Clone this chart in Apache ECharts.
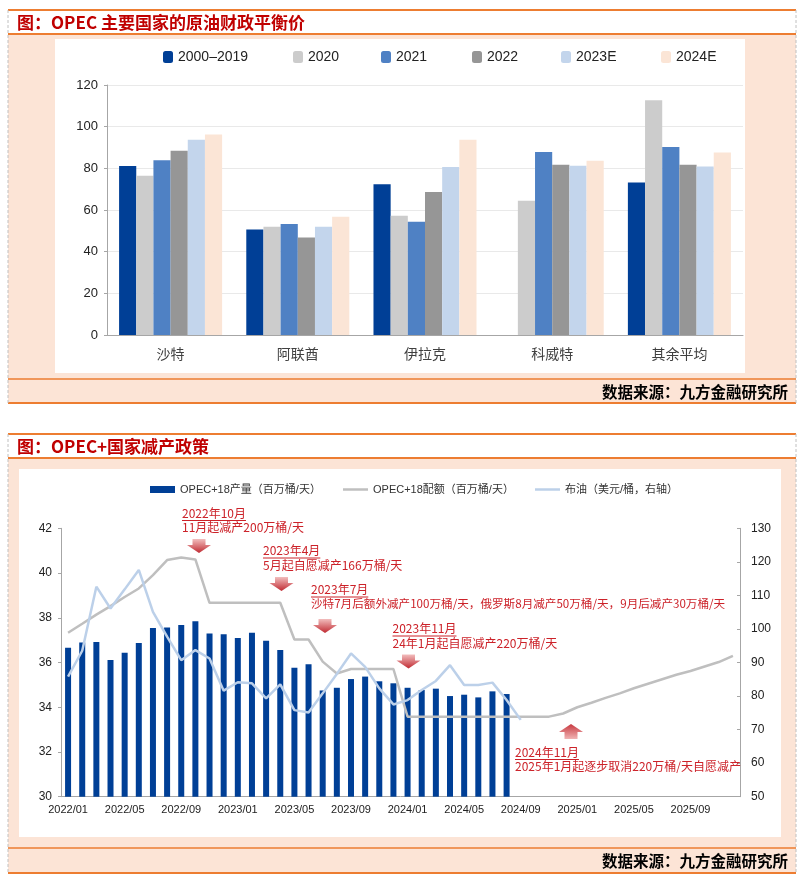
<!DOCTYPE html>
<html><head><meta charset="utf-8">
<script src="https://cdn.jsdelivr.net/npm/echarts@6/dist/echarts.min.js"></script>
<style>html,body{margin:0;padding:0;background:#fff;}#main{width:800px;height:884px;}</style>
</head><body><div id="main"></div>
<script>
// ===== Chart 1 data: OPEC 主要国家的原油财政平衡价 =====
const countries = ['沙特', '阿联酋', '伊拉克', '科威特', '其余平均'];
const seriesNames1 = ['2000–2019', '2020', '2021', '2022', '2023E', '2024E'];
const v2000_2019 = [81.1, 50.7, 72.4, null, 73.2];
const v2020 = [76.4, 52.0, 57.3, 64.5, 112.7];
const v2021 = [83.9, 53.3, 54.4, 87.9, 90.2];
const v2022 = [88.4, 46.8, 68.6, 81.7, 81.7];
const v2023E = [93.7, 52.0, 80.6, 81.2, 80.9];
const v2024E = [96.2, 56.8, 93.7, 83.6, 87.6];
const yTicks1 = {min: 0, max: 120, interval: 20};

// ===== Chart 2 data: OPEC+国家减产政策 =====
const months = ['2022/01','2022/02','2022/03','2022/04','2022/05','2022/06','2022/07','2022/08','2022/09','2022/10','2022/11','2022/12',
  '2023/01','2023/02','2023/03','2023/04','2023/05','2023/06','2023/07','2023/08','2023/09','2023/10','2023/11','2023/12',
  '2024/01','2024/02','2024/03','2024/04','2024/05','2024/06','2024/07','2024/08','2024/09','2024/10','2024/11','2024/12',
  '2025/01','2025/02','2025/03','2025/04','2025/05','2025/06','2025/07','2025/08','2025/09','2025/10','2025/11','2025/12'];
const seriesNames2 = ['OPEC+18产量（百万桶/天）', 'OPEC+18配额（百万桶/天）', '布油（美元/桶，右轴）'];
const production = [36.66, 36.89, 36.92, 36.11, 36.44, 36.87, 37.54, 37.56, 37.68, 37.84, 37.30, 37.26,
  37.09, 37.33, 36.97, 36.56, 35.77, 35.92, 34.75, 34.87, 35.26, 35.37, 35.16, 35.07,
  34.87, 34.77, 34.83, 34.50, 34.56, 34.44, 34.71, 34.59];
const quota = [37.33, 37.73, 38.14, 38.52, 38.93, 39.31, 39.91, 40.58, 40.69, 40.61, 38.67, 38.67,
  38.67, 38.67, 38.67, 38.67, 37.03, 37.03, 36.04, 35.51, 35.71, 35.71, 35.71, 35.71,
  33.58, 33.58, 33.58, 33.58, 33.58, 33.58, 33.58, 33.58, 33.58, 33.58, 33.58, 33.72,
  34.00, 34.20, 34.42, 34.62, 34.85, 35.05, 35.25, 35.45, 35.62, 35.82, 36.02, 36.30];
const brent = [85.8, 93.5, 112.6, 106.1, 111.8, 117.6, 105.1, 97.7, 90.7, 93.7, 91.2, 81.6,
  84.1, 83.8, 79.3, 83.5, 75.8, 75.1, 80.8, 86.6, 92.7, 88.7, 82.3, 77.5,
  78.8, 81.8, 84.5, 89.2, 83.3, 83.3, 84.0, 78.8, 72.9];
const yTicksLeft2 = {min: 30, max: 42, interval: 2};
const yTicksRight2 = {min: 50, max: 130, interval: 10};

// annotations (date line, description line)
const notes = [
  {date: '2022年10月', text: '11月起减产200万桶/天'},
  {date: '2023年4月', text: '5月起自愿减产166万桶/天'},
  {date: '2023年7月', text: '沙特7月后额外减产100万桶/天，俄罗斯8月减产50万桶/天，9月后减产30万桶/天'},
  {date: '2023年11月', text: '24年1月起自愿减产220万桶/天'},
  {date: '2024年11月', text: '2025年1月起逐步取消220万桶/天自愿减产'}
];

// ===== styling / layout =====
const SANS = "'Liberation Sans', 'Noto Sans CJK SC', sans-serif";
const CJK = "'Noto Sans CJK SC', sans-serif";
const ORANGE = '#ED7D31', PEACH = '#FCE4D6', RED = '#CC2229', TITLE_RED = '#C00000';
const barColors1 = ['#003F96', '#CCCCCC', '#4F81C4', '#969696', '#C3D5EC', '#FBE5D6'];
const data1 = [v2000_2019, v2020, v2021, v2022, v2023E, v2024E];
const legend1X = [158, 288, 376, 467, 556, 656];
const legend2X = [145, 338, 530];

const chart = echarts.init(document.getElementById('main'));

const g = [];
function hl(y, x1, x2, c, w, z) { g.push({type: 'line', silent: true, z: z || -5, shape: {x1: x1, y1: y, x2: x2, y2: y}, style: {stroke: c, lineWidth: w}}); }
function vdash(x, y1, y2) { g.push({type: 'line', silent: true, z: -4, shape: {x1: x, y1: y1, x2: x, y2: y2}, style: {stroke: '#C0C0C0', lineWidth: 1, lineDash: [3, 2]}}); }
function rect(x, y, w, h, c, z) { g.push({type: 'rect', silent: true, z: z, shape: {x: x, y: y, width: w, height: h}, style: {fill: c}}); }
function txt(t, x, y, o) { g.push({type: 'text', silent: true, z: 50, x: x, y: y, style: Object.assign({text: t, textVerticalAlign: 'middle', verticalAlign: 'middle'}, o)}); }

function panel(top, titleBot, srcTop, bot, title, inner) {
  rect(8, top, 788, titleBot - top, '#FFFFFF', -10);
  rect(8, titleBot, 788, bot - titleBot, PEACH, -10);
  rect(inner[0], inner[1], inner[2], inner[3], '#FFFFFF', -9);
  hl(top, 8, 796, ORANGE, 2);
  hl(titleBot, 8, 796, ORANGE, 2);
  hl(srcTop, 8, 796, ORANGE, 1.5);
  hl(bot, 8, 796, ORANGE, 2);
  vdash(8, top, bot); vdash(796, top, bot);
  txt(title, 17, (top + titleBot) / 2 + 1, {fill: TITLE_RED, font: 'bold 17px ' + CJK, align: 'left'});
  txt('数据来源：九方金融研究所', 788, (srcTop + bot) / 2 + 1, {fill: '#000', font: 'bold 15.5px ' + CJK, align: 'right'});
}
panel(10, 34, 379, 403, '图：OPEC 主要国家的原油财政平衡价', [55, 39, 690, 334]);
panel(434, 458, 848, 873, '图：OPEC+国家减产政策', [19, 469, 762, 368]);

// annotation helpers
const mctx = document.createElement('canvas').getContext('2d');
function measure(t, font) { mctx.font = font; return mctx.measureText(t).width; }
const noteFont = '12px ' + CJK;
const noteLayout = [
  {x: 182, y: 513, ax: 199, ay: 539, dir: 'down'},
  {x: 263, y: 550.5, ax: 281.5, ay: 577, dir: 'down'},
  {x: 311, y: 589.5, ax: 325, ay: 619, dir: 'down'},
  {x: 392.5, y: 628.5, ax: 408.5, ay: 654.5, dir: 'down'},
  {x: 515, y: 752, ax: 571, ay: 724, dir: 'up'}
];
const arrowFill = function (up) {
  return {type: 'linear', x: 0, y: 0, x2: 0, y2: 1, colorStops: up ?
    [{offset: 0, color: '#C8383F'}, {offset: 1, color: '#F0B4B4'}] :
    [{offset: 0, color: '#F2BDBD'}, {offset: 1, color: '#C02A32'}]};
};
notes.forEach(function (n, i) {
  const L = noteLayout[i];
  txt(n.date, L.x, L.y, {fill: RED, font: noteFont, align: 'left'});
  const w = measure(n.date, noteFont);
  hl(L.y + 7.5, L.x, L.x + w, RED, 1, 50);
  txt(n.text, L.x, L.y + 14.5, {fill: RED, font: (i === 2 ? '11.6px ' : '12px ') + CJK, align: 'left'});
  const cx = L.ax, ty = L.ay;
  let pts;
  if (L.dir === 'down') {
    pts = [[cx - 6.5, ty], [cx + 6.5, ty], [cx + 6.5, ty + 6], [cx + 12, ty + 6], [cx, ty + 14], [cx - 12, ty + 6], [cx - 6.5, ty + 6]];
  } else {
    pts = [[cx, ty], [cx + 12, ty + 8], [cx + 6.5, ty + 8], [cx + 6.5, ty + 15], [cx - 6.5, ty + 15], [cx - 6.5, ty + 8], [cx - 12, ty + 8]];
  }
  g.push({type: 'polygon', silent: true, z: 50, shape: {points: pts}, style: {fill: arrowFill(L.dir === 'up')}});
});

const legends = [];
seriesNames1.forEach(function (nm, i) {
  legends.push({data: [nm], left: legend1X[i], top: 45, icon: 'roundRect', itemWidth: 10, itemHeight: 12,
    textStyle: {fontFamily: SANS, fontSize: 14, color: '#222'}, selectedMode: false});
});
seriesNames2.forEach(function (nm, i) {
  legends.push({data: [nm], left: legend2X[i], top: 479, itemWidth: 25, itemHeight: i === 0 ? 7 : 2.5, icon: 'rect',
    itemGap: 2, textStyle: {fontFamily: SANS, fontSize: 11, color: '#333'}, selectedMode: false});
});

const series = [];
seriesNames1.forEach(function (nm, i) {
  series.push({name: nm, type: 'bar', xAxisIndex: 0, yAxisIndex: 0, data: data1[i], barGap: '0%', barCategoryGap: '19%',
    itemStyle: {color: barColors1[i]}});
});
series.push({name: seriesNames2[0], type: 'bar', xAxisIndex: 1, yAxisIndex: 1, data: production, barWidth: 6, itemStyle: {color: '#003F96'}, z: 2});
series.push({name: seriesNames2[1], type: 'line', xAxisIndex: 1, yAxisIndex: 1, data: quota, symbol: 'none', lineStyle: {color: '#BFBFBF', width: 2.5}, itemStyle: {color: '#BFBFBF'}, z: 3});
series.push({name: seriesNames2[2], type: 'line', xAxisIndex: 1, yAxisIndex: 2, data: brent, symbol: 'none', lineStyle: {color: '#BCD0E9', width: 2.5}, itemStyle: {color: '#BCD0E9'}, z: 4});

const axisGray = '#A6A6A6';
chart.setOption({
  animation: false,
  backgroundColor: '#FFFFFF',
  graphic: g,
  legend: legends,
  grid: [
    {left: 107, right: 57, top: 85, bottom: 549},
    {left: 61, right: 60, top: 528.3, bottom: 87.3}
  ],
  xAxis: [
    {type: 'category', gridIndex: 0, data: countries,
      axisLine: {lineStyle: {color: axisGray}}, axisTick: {inside: true, length: 4, lineStyle: {color: axisGray}},
      axisLabel: {fontFamily: CJK, fontSize: 14, color: '#404040', margin: 12}},
    {type: 'category', gridIndex: 1, data: months,
      axisLine: {lineStyle: {color: axisGray}}, axisTick: {inside: true, length: 4, interval: 3, lineStyle: {color: axisGray}},
      axisLabel: {interval: 3, fontFamily: SANS, fontSize: 11, color: '#222', margin: 8}}
  ],
  yAxis: [
    {type: 'value', gridIndex: 0, min: yTicks1.min, max: yTicks1.max, interval: yTicks1.interval,
      axisLine: {show: true, lineStyle: {color: axisGray}}, axisTick: {show: true, length: 3, lineStyle: {color: axisGray}},
      splitLine: {lineStyle: {color: '#E9E9E9'}},
      axisLabel: {fontFamily: SANS, fontSize: 13, color: '#222', margin: 9}},
    {type: 'value', gridIndex: 1, min: yTicksLeft2.min, max: yTicksLeft2.max, interval: yTicksLeft2.interval,
      axisLine: {show: true, lineStyle: {color: axisGray}}, axisTick: {show: true, length: 3, lineStyle: {color: axisGray}},
      splitLine: {show: false},
      axisLabel: {fontFamily: SANS, fontSize: 12, color: '#222', margin: 9}},
    {type: 'value', gridIndex: 1, position: 'right', min: yTicksRight2.min, max: yTicksRight2.max, interval: yTicksRight2.interval,
      axisLine: {show: true, lineStyle: {color: axisGray}}, axisTick: {show: true, inside: true, length: 3, lineStyle: {color: axisGray}},
      splitLine: {show: false},
      axisLabel: {fontFamily: SANS, fontSize: 12, color: '#222', margin: 11}}
  ],
  series: series
});
</script></body></html>
